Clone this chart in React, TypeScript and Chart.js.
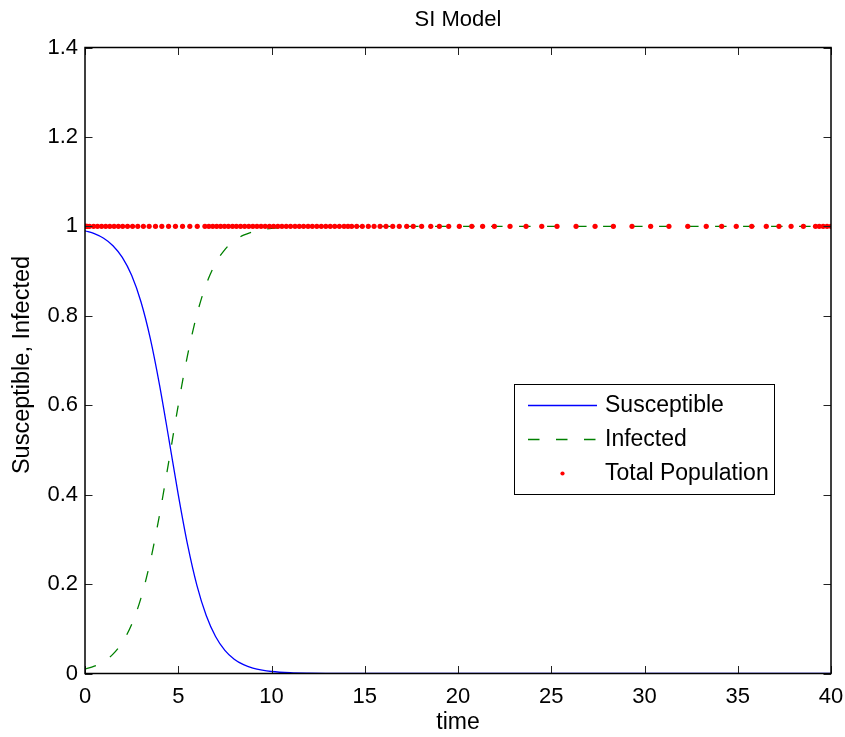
import { useEffect, useRef } from "react";
import { Chart, registerables } from "chart.js";

Chart.register(...registerables);

// ODE solver output times (Total Population markers)
const timePoints = [
  0, 0.03, 0.07, 0.12, 0.24, 0.46, 0.67, 0.89, 1.11, 1.33, 1.56, 1.79, 2.02, 2.28, 2.55,
  2.83, 3.13, 3.44, 3.78, 4.12, 4.48, 4.85, 5.23, 5.62, 6.02, 6.43, 6.64, 6.85, 7.06,
  7.27, 7.48, 7.69, 7.91, 8.12, 8.34, 8.56, 8.78, 9.0, 9.22, 9.44, 9.66, 9.89, 10.11,
  10.34, 10.56, 10.79, 11.02, 11.26, 11.49, 11.72, 11.96, 12.19, 12.43, 12.67, 12.91,
  13.15, 13.39, 13.64, 13.89, 14.1, 14.3, 14.57, 14.87, 15.19, 15.5, 15.82, 16.14, 16.5,
  16.85, 17.25, 17.6, 18.05, 18.54, 19.0, 19.5, 20.07, 20.74, 21.32, 21.95, 22.79, 23.65,
  24.49, 25.31, 26.33, 27.35, 28.33, 29.33, 30.33, 31.31, 32.32, 33.31, 34.14, 34.92,
  35.75, 36.53, 37.21, 37.86, 38.52, 39.17, 39.37, 39.58, 39.79, 40,
];
const totalPopulation = [
  1, 1, 1, 1, 1, 1, 1, 1, 1, 1, 1, 1, 1, 1, 1, 1, 1, 1, 1, 1, 1, 1, 1, 1, 1, 1, 1, 1, 1, 1,
  1, 1, 1, 1, 1, 1, 1, 1, 1, 1, 1, 1, 1, 1, 1, 1, 1, 1, 1, 1, 1, 1, 1, 1, 1, 1, 1, 1, 1, 1,
  1, 1, 1, 1, 1, 1, 1, 1, 1, 1, 1, 1, 1, 1, 1, 1, 1, 1, 1, 1, 1, 1, 1, 1, 1, 1, 1, 1, 1, 1,
  1, 1, 1, 1, 1, 1, 1, 1, 1, 1, 1, 1, 1,
];

// Curve samples
const curveTimes = [
  0, 0.5, 1, 1.5, 2, 2.5, 3, 3.5, 4, 4.5, 5, 5.5, 6, 6.5, 7, 7.5, 8, 8.5, 9, 9.5, 10, 11, 12,
  13, 14, 16, 20, 30, 40,
];
const susceptible = [
  0.99, 0.9836, 0.9733, 0.9567, 0.9305, 0.8904, 0.8313, 0.7494, 0.6445, 0.5238, 0.4001,
  0.2881, 0.1971, 0.1296, 0.0828, 0.0519, 0.0321, 0.0198, 0.0121, 0.0074, 0.0045, 0.0017,
  0.0006, 0.0002, 0.0001, 0, 0, 0, 0,
];
const infected = [
  0.01, 0.0164, 0.0267, 0.0433, 0.0695, 0.1096, 0.1687, 0.2506, 0.3555, 0.4762, 0.5999,
  0.7119, 0.8029, 0.8704, 0.9172, 0.9481, 0.9679, 0.9802, 0.9879, 0.9926, 0.9955, 0.9983,
  0.9994, 0.9998, 0.9999, 1, 1, 1, 1,
];

const xTickValues = [0, 5, 10, 15, 20, 25, 30, 35, 40];
const yTickValues = [0, 0.2, 0.4, 0.6, 0.8, 1, 1.2, 1.4];
const seriesNames = ["Susceptible", "Infected", "Total Population"];

const FONT = '"Liberation Sans", Arial, Helvetica, sans-serif';
const DASH = [11.5, 16.5];

const decorPlugin = {
  id: "matlabDecor",
  afterDraw(chart: any) {
    const ctx = chart.ctx as CanvasRenderingContext2D;
    const { left, right, top, bottom } = chart.chartArea;
    const xs = chart.scales.x;
    const ys = chart.scales.y;
    ctx.save();
    // ticks
    ctx.strokeStyle = "#222";
    ctx.lineWidth = 1;
    const tl = 7.5;
    ctx.beginPath();
    for (const v of xTickValues) {
      const px = Math.round(xs.getPixelForValue(v)) + 0.5;
      ctx.moveTo(px, bottom);
      ctx.lineTo(px, bottom - tl);
      ctx.moveTo(px, top);
      ctx.lineTo(px, top + tl);
    }
    for (const v of yTickValues) {
      const py = Math.round(ys.getPixelForValue(v)) + 0.5;
      ctx.moveTo(left, py);
      ctx.lineTo(left + tl, py);
      ctx.moveTo(right, py);
      ctx.lineTo(right - tl, py);
    }
    ctx.stroke();
    // frame
    ctx.strokeStyle = "#000";
    ctx.lineWidth = 1.5;
    ctx.strokeRect(left, top, right - left, bottom - top);

    // title and axis labels
    ctx.fillStyle = "#000";
    ctx.textAlign = "center";
    ctx.textBaseline = "alphabetic";
    const cx = (left + right) / 2;
    ctx.font = `22px ${FONT}`;
    ctx.fillText("SI Model", cx, 26);
    ctx.font = `23px ${FONT}`;
    ctx.fillText("time", cx, 729);
    ctx.save();
    ctx.font = `23.5px ${FONT}`;
    ctx.translate(29, 365);
    ctx.rotate(-Math.PI / 2);
    ctx.fillText("Susceptible, Infected", 0, 0);
    ctx.restore();

    // legend
    const lx = 514, ly = 384, lw = 260, lh = 110;
    ctx.fillStyle = "#fff";
    ctx.fillRect(lx, ly, lw, lh);
    ctx.strokeStyle = "#000";
    ctx.lineWidth = 1;
    ctx.strokeRect(lx + 0.5, ly + 0.5, lw, lh);
    const rows = [405, 439, 473];
    ctx.lineWidth = 1.3;
    ctx.strokeStyle = "#0000ff";
    ctx.beginPath();
    ctx.moveTo(528, rows[0] + 0.5);
    ctx.lineTo(597, rows[0] + 0.5);
    ctx.stroke();
    ctx.strokeStyle = "#008000";
    ctx.setLineDash(DASH);
    ctx.beginPath();
    ctx.moveTo(528, rows[1] + 0.5);
    ctx.lineTo(597, rows[1] + 0.5);
    ctx.stroke();
    ctx.setLineDash([]);
    ctx.fillStyle = "#ff0000";
    ctx.beginPath();
    ctx.arc(562.5, rows[2] + 0.5, 2.1, 0, Math.PI * 2);
    ctx.fill();
    ctx.fillStyle = "#000";
    ctx.font = `23px ${FONT}`;
    ctx.textAlign = "left";
    ctx.textBaseline = "middle";
    seriesNames.forEach((n, i) => ctx.fillText(n, 605, rows[i] + 1));
    ctx.restore();
  },
};

export default function App() {
  const ref = useRef<HTMLCanvasElement | null>(null);
  useEffect(() => {
    if (!ref.current) return;
    const chart = new Chart(ref.current, {
      type: "line",
      data: {
        datasets: [
          {
            label: seriesNames[0],
            data: curveTimes.map((t, i) => ({ x: t, y: susceptible[i] })),
            borderColor: "#0000ff",
            borderWidth: 1.3,
            pointRadius: 0,
            fill: false,
            tension: 0.4,
            cubicInterpolationMode: "monotone",
            order: 2,
          },
          {
            label: seriesNames[1],
            data: curveTimes.map((t, i) => ({ x: t, y: infected[i] })),
            borderColor: "#008000",
            borderWidth: 1.3,
            borderDash: DASH,
            pointRadius: 0,
            fill: false,
            tension: 0.4,
            cubicInterpolationMode: "monotone",
            order: 1,
          },
          {
            label: seriesNames[2],
            data: timePoints.map((t, i) => ({ x: t, y: totalPopulation[i] })),
            showLine: false,
            pointRadius: 2.6,
            pointBackgroundColor: "#ff0000",
            pointBorderWidth: 0,
            borderColor: "#ff0000",
            order: 0,
          },
        ],
      },
      options: {
        animation: false,
        responsive: false,
        devicePixelRatio: 1,
        layout: { padding: { top: 47.5, right: 14, left: 0, bottom: 0 } },
        plugins: { legend: { display: false }, tooltip: { enabled: false }, title: { display: false } },
        scales: {
          x: {
            type: "linear",
            min: 0,
            max: 40,
            grid: { display: false, drawTicks: false },
            border: { display: false },
            afterBuildTicks: (s: any) => {
              s.ticks = xTickValues.map((v) => ({ value: v }));
            },
            afterFit: (s: any) => {
              s.height = 63.5;
              s.paddingLeft = 0;
              s.paddingRight = 0;
            },
            ticks: {
              padding: 10,
              maxRotation: 0,
              color: "#000",
              font: { family: FONT, size: 22 },
              callback: (v: any) => String(v),
            },
          },
          y: {
            type: "linear",
            min: 0,
            max: 1.4,
            grid: { display: false, drawTicks: false },
            border: { display: false },
            afterBuildTicks: (s: any) => {
              s.ticks = yTickValues.map((v) => ({ value: v }));
            },
            afterFit: (s: any) => {
              s.width = 85;
              s.paddingTop = 0;
              s.paddingBottom = 0;
            },
            ticks: {
              padding: 7,
              color: "#000",
              font: { family: FONT, size: 22 },
              callback: (v: any) => String(Math.round(v * 10) / 10),
            },
          },
        },
      },
      plugins: [decorPlugin],
    });
    return () => chart.destroy();
  }, []);
  return (
    <div style={{ position: "absolute", left: 0, top: 0, width: 845, height: 737, background: "#fff" }}>
      <canvas ref={ref} width={845} height={737} style={{ width: 845, height: 737, display: "block" }} />
    </div>
  );
}
